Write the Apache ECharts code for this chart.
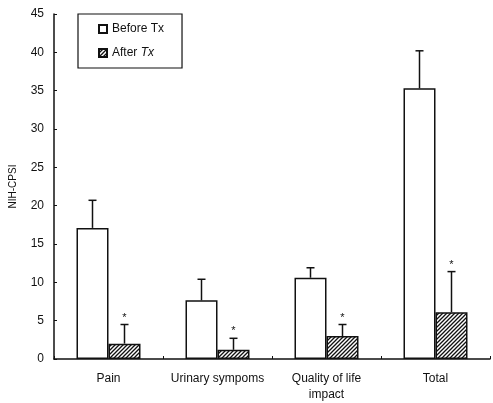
<!DOCTYPE html>
<html>
<head>
<meta charset="utf-8">
<script src="https://cdn.jsdelivr.net/npm/echarts@6/dist/echarts.min.js"></script>
<style>html,body{margin:0;padding:0;background:#fff}#c{width:493px;height:403px}</style>
</head>
<body>
<div id="c"></div>
<script>
var categories = ['Pain', 'Urinary sympoms', 'Quality of life\nimpact', 'Total'];
var beforeTx = [17.1, 7.65, 10.6, 35.3];
var afterTx = [2.0, 1.2, 3.0, 6.1];
var beforeSD = [3.6, 2.75, 1.3, 4.9];
var afterSD = [2.5, 1.5, 1.5, 5.3];
var yTicks = [0, 5, 10, 15, 20, 25, 30, 35, 40, 45];

function hatch() {
  var c = document.createElement('canvas');
  c.width = 4; c.height = 4;
  var g = c.getContext('2d');
  g.fillStyle = '#fff'; g.fillRect(0, 0, 4, 4);
  g.strokeStyle = '#111'; g.lineWidth = 1.3;
  g.beginPath();
  g.moveTo(-1, 5); g.lineTo(5, -1);
  g.moveTo(-1, 1); g.lineTo(1, -1);
  g.moveTo(3, 5); g.lineTo(5, 3);
  g.stroke();
  return c;
}
var pattern = { image: hatch(), repeat: 'repeat' };
var FONT = 'Liberation Sans, Arial, sans-serif';
var BW = 32;

function errSeries(vals, sds, side, star) {
  return {
    type: 'custom',
    silent: true,
    z: 5,
    data: vals.map(function (v, i) { return [i, v, v + sds[i]]; }),
    renderItem: function (params, api) {
      var i = api.value(0);
      var b = api.coord([i, api.value(1)]);
      var t = api.coord([i, api.value(2)]);
      var x = b[0] + side * BW / 2;
      var ch = [
        { type: 'line', shape: { x1: x, y1: b[1], x2: x, y2: t[1] }, style: { stroke: '#111', lineWidth: 1.5 } },
        { type: 'line', shape: { x1: x - 4, y1: t[1], x2: x + 4, y2: t[1] }, style: { stroke: '#111', lineWidth: 1.5 } }
      ];
      if (star) {
        ch.push({ type: 'text', style: { text: '*', x: x, y: t[1] - 7, align: 'center', verticalAlign: 'middle', font: '11px ' + FONT, fill: '#111' } });
      }
      return { type: 'group', children: ch };
    }
  };
}

var chart = echarts.init(document.getElementById('c'));
chart.setOption({
  animation: false,
  backgroundColor: '#fff',
  grid: { left: 54, right: 3, top: 14, bottom: 42 },
  legend: {
    orient: 'vertical',
    left: 78, top: 14,
    padding: [9, 18, 9, 20],
    itemGap: 12,
    itemWidth: 8, itemHeight: 8,
    icon: 'rect',
    borderColor: '#111', borderWidth: 1.2,
    backgroundColor: '#fff',
    textStyle: { fontFamily: FONT, fontSize: 12, color: '#111', rich: { it: { fontStyle: 'italic', fontFamily: FONT, fontSize: 12, color: '#111' }, n: { fontFamily: FONT, fontSize: 12, color: '#111' } } },
    data: ['Before Tx', 'After Tx'],
    formatter: function (n) { return n === 'After Tx' ? '{n|After }{it|Tx}' : n; }
  },
  xAxis: {
    type: 'category',
    data: categories,
    axisLine: { lineStyle: { color: '#111', width: 1.5 } },
    axisTick: { show: true, inside: true, length: 3, lineStyle: { color: '#111' } },
    axisLabel: { interval: 0, fontFamily: FONT, fontSize: 12, color: '#111', margin: 12, lineHeight: 16 }
  },
  yAxis: {
    type: 'value',
    min: 0, max: 45, interval: 5,
    name: 'NIH-CPSI',
    nameLocation: 'middle',
    nameGap: 36,
    nameTextStyle: { fontFamily: FONT, fontSize: 10, color: '#111' },
    splitLine: { show: false },
    axisLine: { show: true, lineStyle: { color: '#111', width: 1.5 } },
    axisTick: { show: true, inside: true, length: 3, lineStyle: { color: '#111' } },
    axisLabel: { fontFamily: FONT, fontSize: 12, color: '#111', margin: 10, formatter: function (v) { return yTicks.indexOf(v) >= 0 ? String(v) : ''; } }
  },
  series: [
    { name: 'Before Tx', type: 'bar', barWidth: BW, barGap: '0%', data: beforeTx,
      itemStyle: { color: '#fff', borderColor: '#111', borderWidth: 1.5 } },
    { name: 'After Tx', type: 'bar', barWidth: BW, barGap: '0%', data: afterTx,
      itemStyle: { color: pattern, borderColor: '#111', borderWidth: 1.5 } },
    errSeries(beforeTx, beforeSD, -1, false),
    errSeries(afterTx, afterSD, 1, true)
  ]
});
</script>
</body>
</html>
